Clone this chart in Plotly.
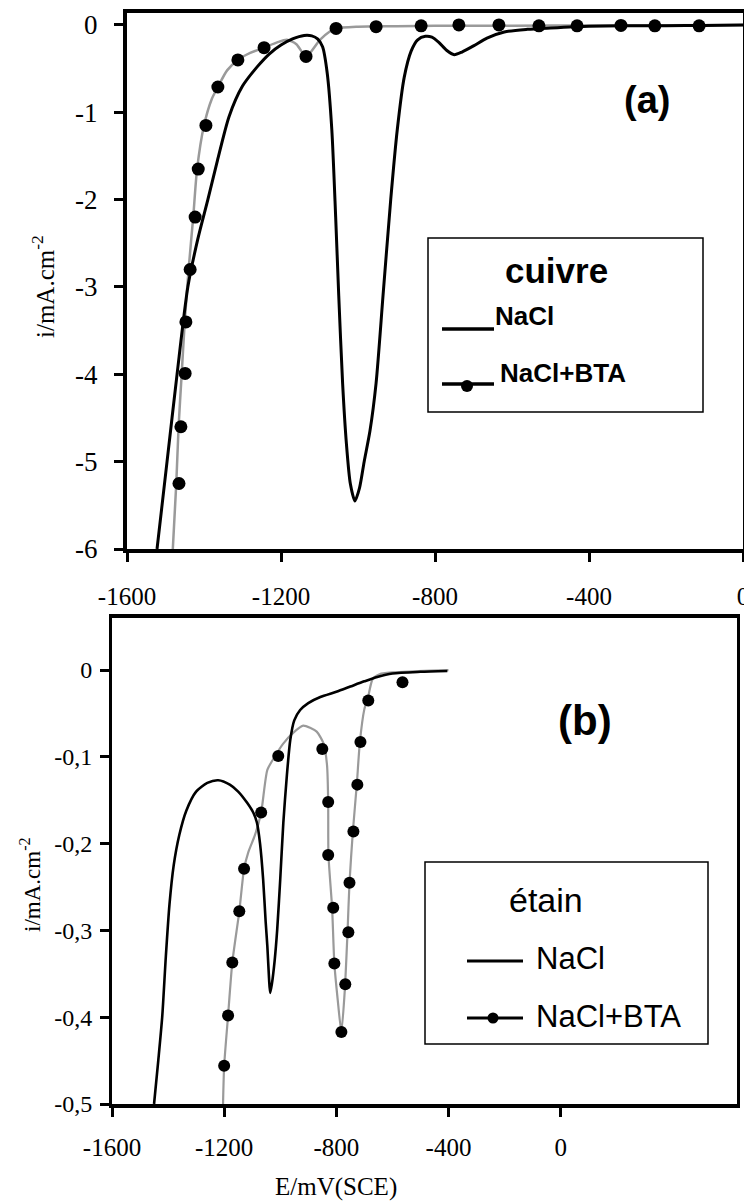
import plotly.graph_objects as go

# Reference canvas is 752x1203; the page adds an 8px body margin, so the
# figure is 8px smaller each way and all layout positions are shifted by 8px.
REF_W, REF_H = 752, 1203
OFF = 8
W, H = REF_W - OFF, REF_H - OFF

# ---------------- Panel (a): cuivre ----------------
a_nacl_E = [-1522, -1496, -1470, -1442, -1416, -1390, -1365, -1335, -1300, -1262, -1230,
            -1200, -1170, -1140, -1120, -1105, -1092, -1080, -1068, -1058, -1050, -1040,
            -1030, -1020, -1008, -996, -984, -969, -953, -935, -915, -898, -880, -862,
            -845, -825, -808, -790, -770, -750, -730, -700, -665, -620, -560, -500,
            -400, -300, -200, -100, 0]
a_nacl_i = [-6.0, -5.0, -4.0, -3.0, -2.45, -2.0, -1.55, -1.05, -0.7, -0.48, -0.33,
            -0.23, -0.16, -0.12, -0.125, -0.16, -0.25, -0.55, -1.2, -2.2, -3.1, -4.1,
            -4.8, -5.25, -5.45, -5.3, -5.0, -4.65, -4.1, -3.1, -2.0, -1.2, -0.6, -0.3,
            -0.17, -0.13, -0.14, -0.2, -0.29, -0.34, -0.31, -0.24, -0.15, -0.08, -0.05, -0.035,
            -0.015, -0.01, -0.008, -0.005, 0.0]

a_bta_E = [-1481, -1472, -1466, -1458, -1450, -1440, -1428, -1418, -1400, -1380, -1364,
           -1340, -1312, -1280, -1244, -1210, -1185, -1160, -1135, -1099, -1075, -1057,
           -1000, -900, -800, -600, -400, 0]
a_bta_i = [-6.0, -5.25, -4.6, -4.0, -3.4, -2.8, -2.2, -1.65, -1.15, -0.85, -0.71,
           -0.52, -0.40, -0.32, -0.26, -0.2, -0.17, -0.22, -0.36, -0.17, -0.08, -0.04,
           -0.02, -0.015, -0.01, -0.01, -0.005, 0.0]

a_dot_E = [-1465, -1460, -1449, -1447, -1436, -1423, -1415, -1395, -1364, -1312, -1244,
           -1135, -1057, -953, -836, -738, -634, -530, -431, -317, -229, -114]
a_dot_i = [-5.25, -4.60, -3.99, -3.40, -2.80, -2.20, -1.65, -1.15, -0.71, -0.40, -0.26,
           -0.36, -0.04, -0.02, -0.01, 0.0, 0.0, -0.01, -0.01, -0.005, -0.01, -0.01]

# ---------------- Panel (b): étain ----------------
b_nacl_E = [-1450, -1435, -1421, -1408, -1395, -1380, -1360, -1335, -1300, -1260, -1221,
            -1180, -1150, -1118, -1095, -1083, -1072, -1061, -1052, -1046, -1040, -1036,
            -1030, -1020, -1011, -1000, -989, -976, -964, -950, -929, -900, -857, -800,
            -750, -700, -654, -600, -500, -404]
b_nacl_i = [-0.5, -0.45, -0.40, -0.33, -0.27, -0.225, -0.19, -0.162, -0.14, -0.13, -0.127,
            -0.132, -0.14, -0.153, -0.165, -0.176, -0.2, -0.241, -0.29, -0.318, -0.355, -0.372,
            -0.362, -0.335, -0.30, -0.241, -0.176, -0.12, -0.08, -0.058, -0.046, -0.038, -0.031, -0.025,
            -0.019, -0.013, -0.008, -0.004, -0.002, -0.001]

b_bta_E = [-1204, -1200, -1186, -1171, -1146, -1129, -1114, -1090, -1068, -1046, -1020,
           -990, -953, -918, -870, -845, -833, -829, -828, -815, -807, -795, -782, -770,
           -760, -753, -741, -727, -716, -700, -686, -670, -640, -560, -400]
b_bta_i = [-0.5, -0.456, -0.398, -0.337, -0.278, -0.229, -0.21, -0.19, -0.164, -0.115, -0.100,
           -0.085, -0.072, -0.064, -0.071, -0.085, -0.110, -0.152, -0.213, -0.274, -0.338, -0.38, -0.417, -0.37,
           -0.302, -0.245, -0.186, -0.132, -0.083, -0.045, -0.030, -0.010, -0.004, -0.002, 0.0]

b_dot_E = [-1200, -1186, -1171, -1146, -1129, -1068, -1007, -850, -829, -829, -811, -807,
           -782, -768, -757, -753, -739, -725, -714, -686, -564]
b_dot_i = [-0.456, -0.398, -0.337, -0.278, -0.229, -0.164, -0.099, -0.091, -0.152, -0.213, -0.274, -0.338,
           -0.417, -0.362, -0.302, -0.245, -0.186, -0.132, -0.083, -0.035, -0.014]

# ---------------- Ticks ----------------
x_ticks = [-1600, -1200, -800, -400, 0]
x_ticktext = ["-1600", "-1200", "-800", "-400", "0"]
a_y_ticks = [0, -1, -2, -3, -4, -5, -6]
a_y_ticktext = ["0", "-1", "-2", "-3", "-4", "-5", "-6"]
b_y_ticks = [0, -0.1, -0.2, -0.3, -0.4, -0.5]
b_y_ticktext = ["0", "-0,1", "-0,2", "-0,3", "-0,4", "-0,5"]

GREY = "#9a9a9a"
SERIF = "Liberation Serif"
SANS = "Liberation Sans"


def px(x):
    return (x - OFF) / W


def py(y):
    return 1 - (y - OFF) / H


fig = go.Figure()

# panel a traces
fig.add_trace(go.Scatter(x=a_bta_E, y=a_bta_i, mode="lines", name="NaCl+BTA",
                         line=dict(color=GREY, width=2.5, shape="spline", smoothing=0.7),
                         xaxis="x", yaxis="y", showlegend=False))
fig.add_trace(go.Scatter(x=a_nacl_E, y=a_nacl_i, mode="lines", name="NaCl",
                         line=dict(color="black", width=3, shape="spline", smoothing=0.7),
                         xaxis="x", yaxis="y", showlegend=False))
fig.add_trace(go.Scatter(x=a_dot_E, y=a_dot_i, mode="markers", name="NaCl+BTA",
                         marker=dict(color="black", size=13),
                         xaxis="x", yaxis="y", showlegend=False))

# panel b traces
fig.add_trace(go.Scatter(x=b_bta_E, y=b_bta_i, mode="lines", name="NaCl+BTA",
                         line=dict(color=GREY, width=2.2, shape="spline", smoothing=0.6),
                         xaxis="x2", yaxis="y2", showlegend=False))
fig.add_trace(go.Scatter(x=b_nacl_E, y=b_nacl_i, mode="lines", name="NaCl",
                         line=dict(color="black", width=2.6, shape="spline", smoothing=0.7),
                         xaxis="x2", yaxis="y2", showlegend=False))
fig.add_trace(go.Scatter(x=b_dot_E, y=b_dot_i, mode="markers", name="NaCl+BTA",
                         marker=dict(color="black", size=12),
                         xaxis="x2", yaxis="y2", showlegend=False))


def xaxis(domain, rng, lw, anchor, standoff):
    return dict(domain=domain, range=rng, anchor=anchor, tickmode="array",
                tickvals=x_ticks, ticktext=x_ticktext, ticks="outside", ticklen=9,
                tickwidth=2.5, tickcolor="black", showline=True, linewidth=lw,
                linecolor="black", mirror=True, showgrid=False, zeroline=False,
                tickfont=dict(family=SERIF, size=25, color="black"),
                ticklabelstandoff=standoff, fixedrange=True, automargin=False)


def yaxis(domain, rng, lw, anchor, tv, tt, fs, standoff):
    return dict(domain=domain, range=rng, anchor=anchor, tickmode="array",
                tickvals=tv, ticktext=tt, ticks="outside", ticklen=9,
                tickwidth=2.5, tickcolor="black", showline=True, linewidth=lw,
                linecolor="black", mirror=True, showgrid=False, zeroline=False,
                tickfont=dict(family=SERIF, size=fs, color="black"),
                ticklabelstandoff=standoff, fixedrange=True, automargin=False)


annotations = [
    dict(text="i/mA.cm<sup>-2</sup>", x=px(43), y=py(287), textangle=-90,
         font=dict(family=SERIF, size=25, color="black")),
    dict(text="i/mA.cm<sup>-2</sup>", x=px(30), y=py(885), textangle=-90,
         font=dict(family=SERIF, size=23, color="black")),
    dict(text="E/mV(SCE)", x=px(336), y=py(1187),
         font=dict(family=SERIF, size=25, color="black")),
    dict(text="<b>(a)</b>", x=px(647), y=py(100),
         font=dict(family=SANS, size=38, color="black")),
    dict(text="<b>(b)</b>", x=px(585), y=py(720),
         font=dict(family=SANS, size=42, color="black")),
    # legend (a)
    dict(text="<b>cuivre</b>", x=px(556), y=py(270),
         font=dict(family=SANS, size=35, color="black")),
    dict(text="<b>NaCl</b>", x=px(494), y=py(316), xanchor="left",
         font=dict(family=SANS, size=26, color="black")),
    dict(text="<b>NaCl+BTA</b>", x=px(499), y=py(373), xanchor="left",
         font=dict(family=SANS, size=26, color="black")),
    # legend (b)
    dict(text="étain", x=px(546), y=py(900),
         font=dict(family=SANS, size=34, color="black")),
    dict(text="NaCl", x=px(535), y=py(958), xanchor="left",
         font=dict(family=SANS, size=31, color="black")),
    dict(text="NaCl+BTA", x=px(535), y=py(1016), xanchor="left",
         font=dict(family=SANS, size=31, color="black")),
]
for a in annotations:
    a.setdefault("xanchor", "center")
    a.update(xref="paper", yref="paper", yanchor="middle", showarrow=False, borderpad=0)


def rect(x0, y0, x1, y1, w=1.5):
    return dict(type="rect", xref="paper", yref="paper", x0=px(x0), x1=px(x1),
                y0=py(y1), y1=py(y0), line=dict(color="black", width=w))


def hline(x0, x1, y, w):
    return dict(type="line", xref="paper", yref="paper", x0=px(x0), x1=px(x1),
                y0=py(y), y1=py(y), line=dict(color="black", width=w))


def dot(cx, cy, r):
    return dict(type="circle", xref="paper", yref="paper", x0=px(cx - r), x1=px(cx + r),
                y0=py(cy + r), y1=py(cy - r), fillcolor="black", line=dict(color="black", width=0))


shapes = [
    rect(428, 238, 703, 412),
    hline(442, 494, 329, 3.5),
    hline(442, 494, 384, 3.5),
    dot(467, 386, 6),
    rect(425, 862, 708, 1044),
    hline(467, 523, 961, 3),
    hline(467, 523, 1018, 3),
    dot(493, 1018, 5.5),
]

fig.update_layout(
    width=W, height=H, autosize=False,
    margin=dict(l=0, r=0, t=0, b=0, pad=0, autoexpand=False),
    paper_bgcolor="white", plot_bgcolor="white", showlegend=False,
    xaxis=xaxis([px(127), px(743)], [-1600, 0], 4, "y", 13),
    yaxis=yaxis([py(549), py(13)], [-6, 0.137], 4, "x", a_y_ticks, a_y_ticktext, 27, 11),
    xaxis2=xaxis([px(112), px(737)], [-1600, 629], 3.5, "y2", 9),
    yaxis2=yaxis([py(1104), py(618)], [-0.5, 0.06], 3, "x2", b_y_ticks, b_y_ticktext, 24, 3),
    annotations=annotations,
    shapes=shapes,
)

fig.write_html("out.html")
